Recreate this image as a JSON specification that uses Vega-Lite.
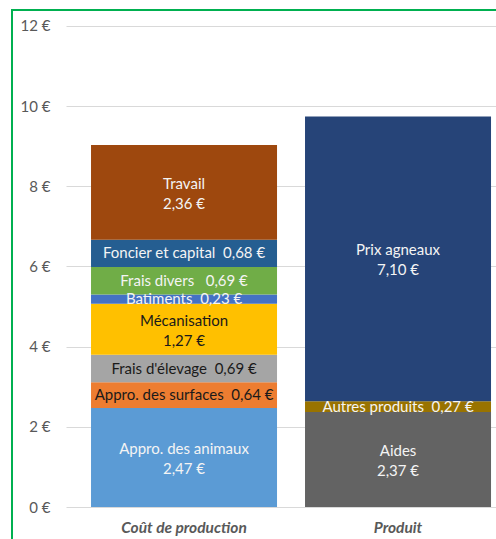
{
  "$schema": "https://vega.github.io/schema/vega-lite/v6.json",
  "width": 488,
  "height": 533,
  "autosize": "none",
  "padding": {"left": 12, "top": 10, "right": -4, "bottom": -4},
  "background": "white",
  "config": {
    "view": {"stroke": "#00B050", "strokeWidth": 2, "fill": "white"},
    "font": "Lato"
  },
  "data": {
    "values": [
      {"categorie": "Coût de production", "poste": "Appro. des animaux", "ordre": 1, "valeur": 2.47, "label": "Appro. des animaux\n2,47 €"},
      {"categorie": "Coût de production", "poste": "Appro. des surfaces", "ordre": 2, "valeur": 0.64, "label": "Appro. des surfaces \u00a00,64 €"},
      {"categorie": "Coût de production", "poste": "Frais d'élevage", "ordre": 3, "valeur": 0.69, "label": "Frais d'élevage \u00a00,69 €"},
      {"categorie": "Coût de production", "poste": "Mécanisation", "ordre": 4, "valeur": 1.27, "label": "Mécanisation\n1,27 €"},
      {"categorie": "Coût de production", "poste": "Batiments", "ordre": 5, "valeur": 0.23, "label": "Batiments \u00a00,23 €"},
      {"categorie": "Coût de production", "poste": "Frais divers", "ordre": 6, "valeur": 0.69, "label": "Frais divers \u00a0\u00a00,69 €"},
      {"categorie": "Coût de production", "poste": "Foncier et capital", "ordre": 7, "valeur": 0.68, "label": "Foncier et capital \u00a00,68 €"},
      {"categorie": "Coût de production", "poste": "Travail", "ordre": 8, "valeur": 2.36, "label": "Travail\n2,36 €"},
      {"categorie": "Produit", "poste": "Aides", "ordre": 1, "valeur": 2.37, "label": "Aides\n2,37 €"},
      {"categorie": "Produit", "poste": "Autres produits", "ordre": 2, "valeur": 0.27, "label": "Autres produits \u00a00,27 €"},
      {"categorie": "Produit", "poste": "Prix agneaux", "ordre": 3, "valeur": 7.10, "label": "Prix agneaux\n7,10 €"}
    ]
  },
  "transform": [
    {"window": [{"op": "sum", "field": "valeur", "as": "cumul"}], "groupby": ["categorie"], "sort": [{"field": "ordre"}], "frame": [null, 0]},
    {"calculate": "datum.cumul - datum.valeur / 2", "as": "milieu"}
  ],
  "encoding": {
    "x": {
      "field": "categorie",
      "type": "nominal",
      "sort": ["Coût de production", "Produit"],
      "scale": {"paddingInner": 0.1308, "paddingOuter": 0.2056, "align": 0.898},
      "axis": {
        "title": null, "orient": "bottom", "offset": -36, "domain": false, "ticks": false,
        "labelPadding": 13, "labelFontSize": 15.5, "labelFontStyle": "italic", "labelFontWeight": "bold",
        "labelColor": "#595959", "labelAngle": 0, "labelFont": "Lato", "zindex": 1
      }
    }
  },
  "layer": [
    {
      "mark": {"type": "bar"},
      "encoding": {
        "y": {
          "field": "valeur", "type": "quantitative", "stack": "zero",
          "scale": {"domain": [-0.898, 12.399], "nice": false, "zero": false},
          "axis": {
            "title": null, "values": [0, 2, 4, 6, 8, 10, 12], "labelExpr": "datum.value + ' €'",
            "grid": false, "domain": false, "offset": -54, "tickSize": -430, "tickColor": "#d9d9d9",
            "tickWidth": 1, "labelPadding": 446, "labelColor": "#595959", "labelFontSize": 15,
            "labelFont": "Lato", "zindex": 0
          }
        },
        "color": {
          "field": "poste", "type": "nominal", "legend": null,
          "scale": {
            "domain": ["Appro. des animaux", "Appro. des surfaces", "Frais d'élevage", "Mécanisation", "Batiments", "Frais divers", "Foncier et capital", "Travail", "Aides", "Autres produits", "Prix agneaux"],
            "range": ["#5B9BD5", "#ED7D31", "#A5A5A5", "#FFC000", "#4472C4", "#70AD47", "#255E91", "#9E480E", "#636363", "#997300", "#264478"]
          }
        },
        "order": {"field": "ordre"}
      }
    },
    {
      "transform": [{"filter": "indexof(datum.label, '\\n') < 0"}],
      "mark": {"type": "text", "fontSize": 15, "baseline": "middle", "align": "center", "font": "Lato"},
      "encoding": {
        "y": {"field": "milieu", "type": "quantitative"},
        "text": {"field": "label"},
        "color": {
          "condition": {"test": "indexof(['Appro. des surfaces', 'Frais d\\'élevage', 'Mécanisation'], datum.poste) >= 0", "value": "#1a1a1a"},
          "value": "#f4f4f4"
        }
      }
    },
    {
      "transform": [{"filter": "indexof(datum.label, '\\n') >= 0"}],
      "mark": {"type": "text", "fontSize": 15, "lineHeight": 20, "baseline": "middle", "align": "center", "lineBreak": "\n", "dy": -8.5, "font": "Lato"},
      "encoding": {
        "y": {"field": "milieu", "type": "quantitative"},
        "text": {"field": "label"},
        "color": {
          "condition": {"test": "indexof(['Appro. des surfaces', 'Frais d\\'élevage', 'Mécanisation'], datum.poste) >= 0", "value": "#1a1a1a"},
          "value": "#f4f4f4"
        }
      }
    }
  ]
}
